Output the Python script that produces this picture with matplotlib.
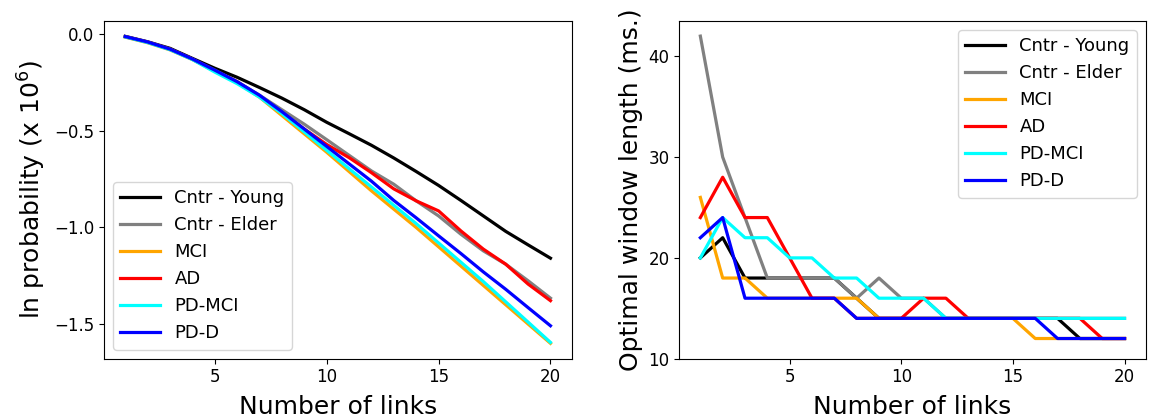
import numpy as np
import matplotlib
matplotlib.use("Agg")
import matplotlib.pyplot as plt

# Number of links (x axis, shared by both panels)
links = np.arange(1, 21)

groups = ["Cntr - Young", "Cntr - Elder", "MCI", "AD", "PD-MCI", "PD-D"]
colors = ["black", "gray", "orange", "red", "cyan", "blue"]

# ln probability (x 10^6)
lnp_young = [-0.010, -0.038, -0.072, -0.124, -0.175, -0.222, -0.275, -0.330, -0.390, -0.455,
             -0.514, -0.574, -0.640, -0.710, -0.782, -0.860, -0.940, -1.020, -1.090, -1.159]
lnp_elder = [-0.012, -0.040, -0.076, -0.128, -0.185, -0.245, -0.315, -0.390, -0.465, -0.545,
             -0.626, -0.707, -0.776, -0.862, -0.940, -1.035, -1.121, -1.190, -1.276, -1.366]
lnp_mci = [-0.014, -0.043, -0.080, -0.130, -0.190, -0.250, -0.325, -0.420, -0.515, -0.610,
           -0.710, -0.810, -0.905, -1.000, -1.100, -1.200, -1.300, -1.400, -1.500, -1.600]
lnp_ad = [-0.012, -0.040, -0.077, -0.128, -0.190, -0.245, -0.320, -0.405, -0.490, -0.570,
          -0.638, -0.716, -0.800, -0.862, -0.914, -1.018, -1.112, -1.190, -1.293, -1.379]
lnp_pdmci = [-0.013, -0.042, -0.079, -0.130, -0.195, -0.255, -0.325, -0.410, -0.505, -0.600,
             -0.695, -0.790, -0.885, -0.980, -1.080, -1.180, -1.280, -1.385, -1.490, -1.595]
lnp_pdd = [-0.011, -0.039, -0.076, -0.127, -0.185, -0.245, -0.315, -0.400, -0.490, -0.580,
           -0.670, -0.760, -0.860, -0.950, -1.043, -1.135, -1.230, -1.320, -1.415, -1.509]

# Optimal window length (ms.)
win_young = [20, 22, 18, 18, 18, 18, 18, 16, 14, 14, 14, 14, 14, 14, 14, 14, 14, 12, 12, 12]
win_elder = [42, 30, 24, 18, 18, 18, 18, 16, 18, 16, 16, 14, 14, 14, 14, 14, 14, 14, 14, 14]
win_mci = [26, 18, 18, 16, 16, 16, 16, 16, 14, 14, 14, 14, 14, 14, 14, 12, 12, 12, 12, 12]
win_ad = [24, 28, 24, 24, 20, 16, 16, 14, 14, 14, 16, 16, 14, 14, 14, 14, 14, 14, 12, 12]
win_pdmci = [20, 24, 22, 22, 20, 20, 18, 18, 16, 16, 16, 14, 14, 14, 14, 14, 14, 14, 14, 14]
win_pdd = [22, 24, 16, 16, 16, 16, 16, 14, 14, 14, 14, 14, 14, 14, 14, 14, 12, 12, 12, 12]

lnp_series = [lnp_young, lnp_elder, lnp_mci, lnp_ad, lnp_pdmci, lnp_pdd]
win_series = [win_young, win_elder, win_mci, win_ad, win_pdmci, win_pdd]

fig = plt.figure(figsize=(11.55, 4.2), dpi=100)
ax1 = fig.add_axes([0.090, 0.146, 0.405, 0.804])
ax2 = fig.add_axes([0.588, 0.146, 0.404, 0.804])

# Left panel: ln probability
for values, name, col in zip(lnp_series, groups, colors):
    ax1.plot(links, values, color=col, linewidth=2.3, label=name)
ax1.set_xticks([5, 10, 15, 20])
ax1.set_yticks([0.0, -0.5, -1.0, -1.5])
ax1.set_xlabel("Number of links", fontsize=18, labelpad=6)
ax1.set_ylabel("ln probability (x 10$^6$)", fontsize=18)
ax1.tick_params(labelsize=12)
ax1.legend(loc="lower left", fontsize=13, handlelength=2.2)

# Right panel: optimal window length
for values, name, col in zip(win_series, groups, colors):
    ax2.plot(links, values, color=col, linewidth=2.3, label=name)
ax2.set_ylim(bottom=10)
ax2.set_xticks([5, 10, 15, 20])
ax2.set_yticks([10, 20, 30, 40])
ax2.set_xlabel("Number of links", fontsize=18, labelpad=6)
ax2.set_ylabel("Optimal window length (ms.)", fontsize=18)
ax2.tick_params(labelsize=12)
ax2.legend(loc="upper right", fontsize=13, handlelength=2.2)

fig.savefig("out.png", dpi=100)
